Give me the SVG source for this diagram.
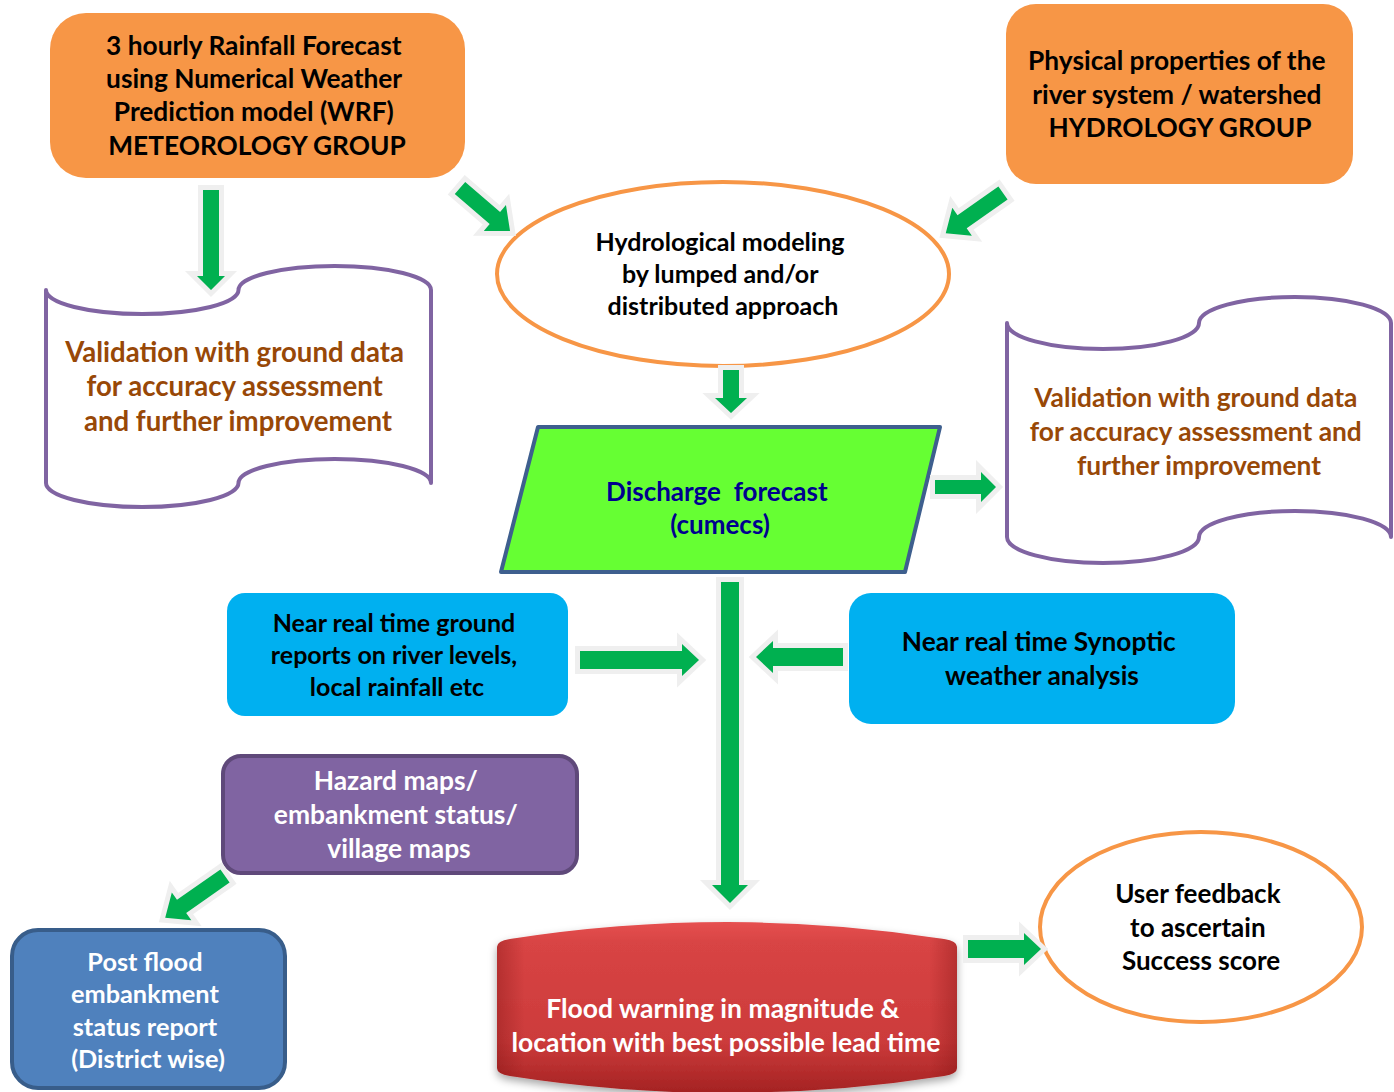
<svg xmlns="http://www.w3.org/2000/svg" width="1394" height="1092" viewBox="0 0 1394 1092">
  <defs>
    <style>
      .t { font-family: Lato, "Open Sans", "Liberation Sans", sans-serif; font-weight: 700; text-anchor: middle; }
      .dark { fill: #000000; }
      .white { fill: #ffffff; }
      .brown { fill: #984807; }
      .navy { fill: #00008f; }
      .orangebox { fill: #f79646; }
      .bluebox { fill: #00b0f0; }
      .oval { fill: #ffffff; stroke: #f79646; stroke-width: 4; }
      .tape { fill: #ffffff; stroke: #8064a2; stroke-width: 4; stroke-linejoin: round; }
      .arrow { fill: #00b050; stroke: #efefef; stroke-width: 10; paint-order: stroke; stroke-linejoin: miter; }
    </style>
    <linearGradient id="redFill" x1="0" y1="0" x2="0" y2="1">
      <stop offset="0" stop-color="#e65050"/>
      <stop offset="0.12" stop-color="#d84444"/>
      <stop offset="0.7" stop-color="#cc3b3b"/>
      <stop offset="1" stop-color="#a42222"/>
    </linearGradient>
    <linearGradient id="redEdge" x1="0" y1="0" x2="1" y2="0">
      <stop offset="0" stop-color="#7a1010" stop-opacity="0.35"/>
      <stop offset="0.06" stop-color="#7a1010" stop-opacity="0"/>
      <stop offset="0.94" stop-color="#7a1010" stop-opacity="0"/>
      <stop offset="1" stop-color="#7a1010" stop-opacity="0.35"/>
    </linearGradient>
    <filter id="softShadow" x="-10%" y="-20%" width="120%" height="150%">
      <feDropShadow dx="0" dy="4" stdDeviation="4" flood-color="#000000" flood-opacity="0.35"/>
    </filter>
  </defs>

  <rect width="1394" height="1092" fill="#ffffff"/>

  <!-- nodes -->
  <g id="rainfall-forecast">
    <rect class="orangebox" x="50" y="13" width="415" height="165" rx="36"/>
    <text class="t dark" font-size="26.3">
      <tspan x="257" y="55">3 hourly Rainfall Forecast</tspan>
      <tspan x="257" y="88">using Numerical Weather</tspan>
      <tspan x="257" y="121">Prediction model (WRF)</tspan>
      <tspan x="257" y="155">METEOROLOGY GROUP</tspan>
    </text>
  </g>

  <g id="physical-properties">
    <rect class="orangebox" x="1006" y="4" width="347" height="180" rx="30"/>
    <text class="t dark" font-size="26.3">
      <tspan x="1180" y="70">Physical properties of the</tspan>
      <tspan x="1180" y="104">river system / watershed</tspan>
      <tspan x="1180" y="137">HYDROLOGY GROUP</tspan>
    </text>
  </g>

  <g id="hydrological-modeling">
    <ellipse class="oval" cx="723" cy="274" rx="226" ry="92"/>
    <text class="t dark" font-size="25">
      <tspan x="723" y="251">Hydrological modeling</tspan>
      <tspan x="723" y="283">by lumped and/or</tspan>
      <tspan x="723" y="315">distributed approach</tspan>
    </text>
  </g>

  <g id="validation-rainfall">
    <path class="tape" d="M46,290 A96.25,24 0 0 0 238.5,290 A96.25,24 0 0 1 431,290 L431,483 A96.25,24 0 0 0 238.5,483 A96.25,24 0 0 1 46,483 Z"/>
    <text class="t brown" font-size="27.6">
      <tspan x="238" y="362">Validation with ground data</tspan>
      <tspan x="238" y="396">for accuracy assessment</tspan>
      <tspan x="238" y="431">and further improvement</tspan>
    </text>
  </g>

  <g id="discharge-forecast">
    <polygon points="538,427 940,427 905,572 501,572" fill="#66ff33" stroke="#3e5f8e" stroke-width="4" stroke-linejoin="round"/>
    <text class="t navy" font-size="26">
      <tspan x="720" y="501" xml:space="preserve">Discharge  forecast</tspan>
      <tspan x="720" y="534">(cumecs)</tspan>
    </text>
  </g>

  <g id="validation-discharge">
    <path class="tape" d="M1007,323 A96,26 0 0 0 1199,323 A96,26 0 0 1 1391,323 L1391,537 A96,26 0 0 0 1199,537 A96,26 0 0 1 1007,537 Z"/>
    <text class="t brown" font-size="26.3">
      <tspan x="1199" y="407">Validation with ground data</tspan>
      <tspan x="1199" y="441">for accuracy assessment and</tspan>
      <tspan x="1199" y="475">further improvement</tspan>
    </text>
  </g>

  <g id="ground-reports">
    <rect class="bluebox" x="227" y="593" width="341" height="123" rx="18"/>
    <text class="t dark" font-size="25">
      <tspan x="397" y="632">Near real time ground</tspan>
      <tspan x="397" y="664">reports on river levels,</tspan>
      <tspan x="397" y="696">local rainfall etc</tspan>
    </text>
  </g>

  <g id="synoptic-analysis">
    <rect class="bluebox" x="849" y="593" width="386" height="131" rx="22"/>
    <text class="t dark" font-size="26.3">
      <tspan x="1042" y="651">Near real time Synoptic</tspan>
      <tspan x="1042" y="685">weather analysis</tspan>
    </text>
  </g>

  <g id="hazard-maps">
    <rect x="223" y="756" width="354" height="117" rx="18" fill="#8064a2" stroke="#5f497a" stroke-width="4"/>
    <text class="t white" font-size="26.4">
      <tspan x="399" y="790">Hazard maps/</tspan>
      <tspan x="399" y="824">embankment status/</tspan>
      <tspan x="399" y="858">village maps</tspan>
    </text>
  </g>

  <g id="post-flood-report">
    <rect x="12" y="930" width="273" height="158" rx="26" fill="#4f81bd" stroke="#385d8a" stroke-width="4"/>
    <text class="t white" font-size="25.3">
      <tspan x="148" y="971">Post flood</tspan>
      <tspan x="148" y="1003">embankment</tspan>
      <tspan x="148" y="1036">status report</tspan>
      <tspan x="148" y="1068">(District wise)</tspan>
    </text>
  </g>

  <g id="flood-warning">
    <g filter="url(#softShadow)">
      <path d="M497,947 Q497,941 510,939 Q727,905 944,939 Q957,941 957,947 L957,1068 Q957,1074 944,1076 Q727,1110 510,1076 Q497,1074 497,1068 Z" fill="url(#redFill)"/>
    </g>
    <path d="M497,947 Q497,941 510,939 Q727,905 944,939 Q957,941 957,947 L957,1068 Q957,1074 944,1076 Q727,1110 510,1076 Q497,1074 497,1068 Z" fill="url(#redEdge)"/>
    <text class="t white" font-size="26.5">
      <tspan x="726" y="1018">Flood warning in magnitude &amp;</tspan>
      <tspan x="726" y="1052">location with best possible lead time</tspan>
    </text>
  </g>

  <g id="user-feedback">
    <ellipse class="oval" cx="1201" cy="927" rx="161" ry="95"/>
    <text class="t dark" font-size="26">
      <tspan x="1201" y="903">User feedback</tspan>
      <tspan x="1201" y="937">to ascertain</tspan>
      <tspan x="1201" y="970">Success score</tspan>
    </text>
  </g>

  <!-- connectors: block arrows with a pale outline -->
  <g id="connectors">
    <path class="arrow" d="M203,190 L219,190 L219,276 L225,276 L211,290 L197,276 L203,276 Z"/>
    <path class="arrow" transform="translate(460,188) rotate(40.7)" d="M0,-8 L46,-8 L46,-17 L66,0 L46,17 L46,8 L0,8 Z"/>
    <path class="arrow" transform="translate(1003,193) rotate(144.9)" d="M0,-8 L50,-8 L50,-17 L70,0 L50,17 L50,8 L0,8 Z"/>
    <path class="arrow" d="M723,370 L739,370 L739,398 L747,398 L731,413 L715,398 L723,398 Z"/>
    <path class="arrow" d="M935,480 L981,480 L981,472 L996,487 L981,502 L981,494 L935,494 Z"/>
    <path class="arrow" d="M721,582 L739,582 L739,885 L748,885 L730,903 L712,885 L721,885 Z"/>
    <path class="arrow" d="M580,651 L682,651 L682,644 L699,660 L682,676 L682,669 L580,669 Z"/>
    <path class="arrow" d="M843,648 L773,648 L773,641 L756,657 L773,673 L773,666 L843,666 Z"/>
    <path class="arrow" transform="translate(225,876) rotate(145)" d="M0,-8 L53,-8 L53,-17 L73,0 L53,17 L53,8 L0,8 Z"/>
    <path class="arrow" d="M968,940 L1024,940 L1024,933 L1041,949 L1024,965 L1024,958 L968,958 Z"/>
  </g>
</svg>
